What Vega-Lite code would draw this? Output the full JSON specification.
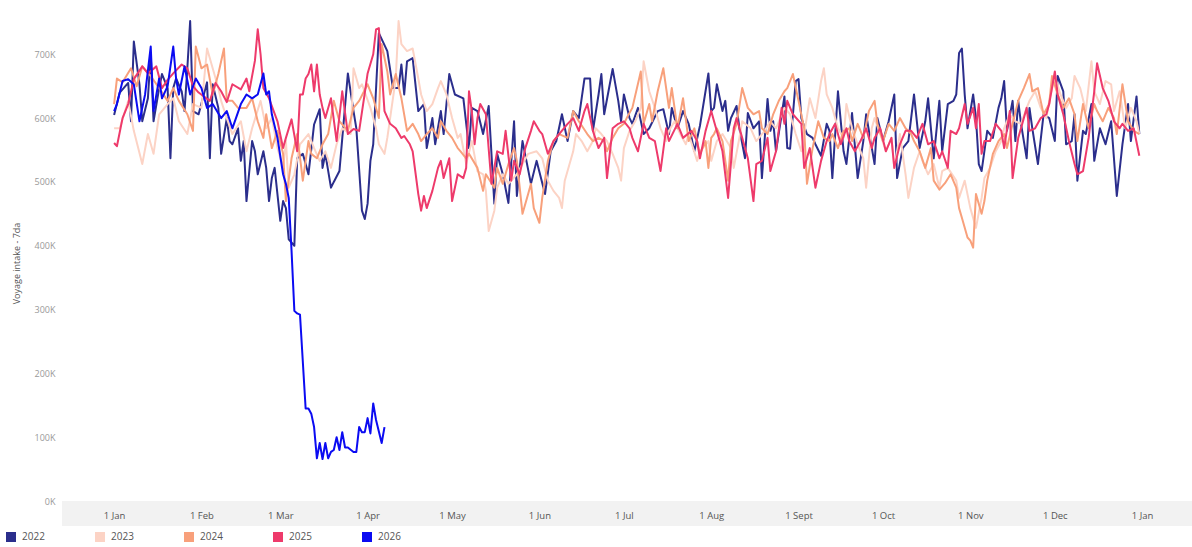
{
"$schema": "https://vega.github.io/schema/vega-lite/v6.json",
"width": 1130,
"height": 526,
"autosize": {"type": "none"},
"padding": {"left": 62, "top": 0, "right": 0, "bottom": 21},
"background": "white",
"config": {"view": {"stroke": null}, "font": "Open Sans"},
"layer": [
{
"data": {"values": [{}]},
"mark": {"type": "rect", "color": "#f2f2f2"},
"encoding": {
"y": {"datum": 0, "type": "quantitative", "scale": {"domain": [-39, 785], "nice": false, "zero": false}},
"y2": {"datum": -39}
}
},
{
"data": {"values": [
{"s":"2022","d":0,"v":605},{"s":"2022","d":2,"v":640},{"s":"2022","d":4,"v":650},{"s":"2022","d":5,"v":655},{"s":"2022","d":6,"v":595},{"s":"2022","d":7,"v":720},{"s":"2022","d":9,"v":653},{"s":"2022","d":10,"v":595},{"s":"2022","d":12,"v":631},{"s":"2022","d":13,"v":700},{"s":"2022","d":14,"v":595},{"s":"2022","d":16,"v":647},{"s":"2022","d":17,"v":669},{"s":"2022","d":19,"v":647},{"s":"2022","d":20,"v":537},{"s":"2022","d":21,"v":647},{"s":"2022","d":22,"v":662},{"s":"2022","d":24,"v":642},{"s":"2022","d":25,"v":611},{"s":"2022","d":26,"v":678},{"s":"2022","d":27,"v":752},{"s":"2022","d":28,"v":611},{"s":"2022","d":30,"v":606},{"s":"2022","d":33,"v":656},{"s":"2022","d":34,"v":537},{"s":"2022","d":35,"v":653},{"s":"2022","d":37,"v":616},{"s":"2022","d":38,"v":544},{"s":"2022","d":40,"v":600},{"s":"2022","d":41,"v":564},{"s":"2022","d":42,"v":559},{"s":"2022","d":44,"v":584},{"s":"2022","d":45,"v":533},{"s":"2022","d":46,"v":564},{"s":"2022","d":47,"v":470},{"s":"2022","d":49,"v":564},{"s":"2022","d":50,"v":548},{"s":"2022","d":51,"v":512},{"s":"2022","d":53,"v":548},{"s":"2022","d":54,"v":522},{"s":"2022","d":55,"v":470},{"s":"2022","d":56,"v":506},{"s":"2022","d":57,"v":522},{"s":"2022","d":59,"v":439},{"s":"2022","d":60,"v":470},{"s":"2022","d":61,"v":459},{"s":"2022","d":62,"v":410},{"s":"2022","d":64,"v":400},{"s":"2022","d":65,"v":537},{"s":"2022","d":67,"v":544},{"s":"2022","d":69,"v":512},{"s":"2022","d":71,"v":590},{"s":"2022","d":73,"v":614},{"s":"2022","d":74,"v":522},{"s":"2022","d":75,"v":544},{"s":"2022","d":77,"v":491},{"s":"2022","d":78,"v":500},{"s":"2022","d":80,"v":517},{"s":"2022","d":83,"v":670},{"s":"2022","d":85,"v":611},{"s":"2022","d":86,"v":584},{"s":"2022","d":88,"v":455},{"s":"2022","d":89,"v":442},{"s":"2022","d":90,"v":466},{"s":"2022","d":91,"v":533},{"s":"2022","d":92,"v":559},{"s":"2022","d":94,"v":733},{"s":"2022","d":97,"v":705},{"s":"2022","d":99,"v":647},{"s":"2022","d":101,"v":647},{"s":"2022","d":102,"v":684},{"s":"2022","d":103,"v":637},{"s":"2022","d":104,"v":689},{"s":"2022","d":106,"v":694},{"s":"2022","d":108,"v":611},{"s":"2022","d":110,"v":622},{"s":"2022","d":111,"v":553},{"s":"2022","d":113,"v":600},{"s":"2022","d":114,"v":559},{"s":"2022","d":116,"v":611},{"s":"2022","d":117,"v":575},{"s":"2022","d":119,"v":669},{"s":"2022","d":121,"v":637},{"s":"2022","d":124,"v":631},{"s":"2022","d":126,"v":553},{"s":"2022","d":127,"v":616},{"s":"2022","d":129,"v":611},{"s":"2022","d":131,"v":575},{"s":"2022","d":133,"v":619},{"s":"2022","d":135,"v":466},{"s":"2022","d":136,"v":544},{"s":"2022","d":138,"v":512},{"s":"2022","d":140,"v":467},{"s":"2022","d":142,"v":595},{"s":"2022","d":143,"v":478},{"s":"2022","d":145,"v":564},{"s":"2022","d":148,"v":497},{"s":"2022","d":150,"v":533},{"s":"2022","d":153,"v":481},{"s":"2022","d":155,"v":548},{"s":"2022","d":157,"v":564},{"s":"2022","d":159,"v":606},{"s":"2022","d":161,"v":564},{"s":"2022","d":163,"v":611},{"s":"2022","d":165,"v":600},{"s":"2022","d":167,"v":662},{"s":"2022","d":169,"v":662},{"s":"2022","d":170,"v":580},{"s":"2022","d":172,"v":637},{"s":"2022","d":173,"v":669},{"s":"2022","d":174,"v":606},{"s":"2022","d":177,"v":677},{"s":"2022","d":179,"v":627},{"s":"2022","d":180,"v":595},{"s":"2022","d":181,"v":637},{"s":"2022","d":183,"v":600},{"s":"2022","d":184,"v":591},{"s":"2022","d":186,"v":616},{"s":"2022","d":188,"v":575},{"s":"2022","d":190,"v":584},{"s":"2022","d":193,"v":611},{"s":"2022","d":195,"v":614},{"s":"2022","d":197,"v":575},{"s":"2022","d":198,"v":616},{"s":"2022","d":200,"v":584},{"s":"2022","d":202,"v":611},{"s":"2022","d":204,"v":591},{"s":"2022","d":206,"v":548},{"s":"2022","d":208,"v":588},{"s":"2022","d":211,"v":670},{"s":"2022","d":212,"v":611},{"s":"2022","d":213,"v":616},{"s":"2022","d":214,"v":653},{"s":"2022","d":216,"v":611},{"s":"2022","d":217,"v":627},{"s":"2022","d":218,"v":580},{"s":"2022","d":219,"v":600},{"s":"2022","d":221,"v":619},{"s":"2022","d":222,"v":584},{"s":"2022","d":224,"v":537},{"s":"2022","d":225,"v":608},{"s":"2022","d":227,"v":584},{"s":"2022","d":229,"v":595},{"s":"2022","d":230,"v":506},{"s":"2022","d":232,"v":630},{"s":"2022","d":233,"v":580},{"s":"2022","d":234,"v":595},{"s":"2022","d":235,"v":548},{"s":"2022","d":238,"v":634},{"s":"2022","d":239,"v":553},{"s":"2022","d":240,"v":552},{"s":"2022","d":242,"v":658},{"s":"2022","d":243,"v":661},{"s":"2022","d":244,"v":600},{"s":"2022","d":246,"v":575},{"s":"2022","d":248,"v":569},{"s":"2022","d":249,"v":559},{"s":"2022","d":251,"v":541},{"s":"2022","d":253,"v":591},{"s":"2022","d":254,"v":580},{"s":"2022","d":255,"v":506},{"s":"2022","d":257,"v":642},{"s":"2022","d":259,"v":548},{"s":"2022","d":260,"v":528},{"s":"2022","d":262,"v":608},{"s":"2022","d":264,"v":506},{"s":"2022","d":266,"v":564},{"s":"2022","d":267,"v":606},{"s":"2022","d":270,"v":528},{"s":"2022","d":271,"v":600},{"s":"2022","d":273,"v":564},{"s":"2022","d":275,"v":595},{"s":"2022","d":277,"v":637},{"s":"2022","d":278,"v":506},{"s":"2022","d":280,"v":553},{"s":"2022","d":282,"v":564},{"s":"2022","d":284,"v":637},{"s":"2022","d":286,"v":553},{"s":"2022","d":288,"v":595},{"s":"2022","d":289,"v":631},{"s":"2022","d":291,"v":537},{"s":"2022","d":293,"v":627},{"s":"2022","d":294,"v":548},{"s":"2022","d":296,"v":622},{"s":"2022","d":298,"v":627},{"s":"2022","d":299,"v":637},{"s":"2022","d":300,"v":702},{"s":"2022","d":301,"v":709},{"s":"2022","d":302,"v":637},{"s":"2022","d":303,"v":584},{"s":"2022","d":305,"v":637},{"s":"2022","d":306,"v":600},{"s":"2022","d":307,"v":528},{"s":"2022","d":308,"v":517},{"s":"2022","d":310,"v":580},{"s":"2022","d":312,"v":569},{"s":"2022","d":314,"v":616},{"s":"2022","d":315,"v":631},{"s":"2022","d":316,"v":658},{"s":"2022","d":317,"v":580},{"s":"2022","d":319,"v":627},{"s":"2022","d":320,"v":564},{"s":"2022","d":321,"v":627},{"s":"2022","d":322,"v":591},{"s":"2022","d":324,"v":537},{"s":"2022","d":325,"v":616},{"s":"2022","d":326,"v":584},{"s":"2022","d":328,"v":528},{"s":"2022","d":330,"v":606},{"s":"2022","d":332,"v":600},{"s":"2022","d":334,"v":564},{"s":"2022","d":335,"v":666},{"s":"2022","d":337,"v":642},{"s":"2022","d":338,"v":559},{"s":"2022","d":340,"v":564},{"s":"2022","d":341,"v":606},{"s":"2022","d":342,"v":502},{"s":"2022","d":344,"v":580},{"s":"2022","d":345,"v":575},{"s":"2022","d":347,"v":622},{"s":"2022","d":348,"v":533},{"s":"2022","d":350,"v":584},{"s":"2022","d":352,"v":559},{"s":"2022","d":354,"v":595},{"s":"2022","d":356,"v":478},{"s":"2022","d":358,"v":559},{"s":"2022","d":360,"v":622},{"s":"2022","d":361,"v":564},{"s":"2022","d":363,"v":634},{"s":"2022","d":364,"v":575},
{"s":"2023","d":0,"v":584},{"s":"2023","d":2,"v":584},{"s":"2023","d":5,"v":627},{"s":"2023","d":7,"v":580},{"s":"2023","d":10,"v":528},{"s":"2023","d":12,"v":575},{"s":"2023","d":14,"v":544},{"s":"2023","d":16,"v":606},{"s":"2023","d":19,"v":622},{"s":"2023","d":21,"v":631},{"s":"2023","d":23,"v":595},{"s":"2023","d":26,"v":575},{"s":"2023","d":28,"v":622},{"s":"2023","d":31,"v":616},{"s":"2023","d":33,"v":709},{"s":"2023","d":35,"v":678},{"s":"2023","d":37,"v":647},{"s":"2023","d":38,"v":627},{"s":"2023","d":40,"v":600},{"s":"2023","d":42,"v":575},{"s":"2023","d":45,"v":595},{"s":"2023","d":47,"v":548},{"s":"2023","d":49,"v":584},{"s":"2023","d":52,"v":627},{"s":"2023","d":54,"v":584},{"s":"2023","d":56,"v":600},{"s":"2023","d":58,"v":553},{"s":"2023","d":60,"v":522},{"s":"2023","d":61,"v":564},{"s":"2023","d":62,"v":491},{"s":"2023","d":64,"v":512},{"s":"2023","d":66,"v":559},{"s":"2023","d":69,"v":575},{"s":"2023","d":71,"v":553},{"s":"2023","d":73,"v":533},{"s":"2023","d":75,"v":548},{"s":"2023","d":77,"v":522},{"s":"2023","d":79,"v":559},{"s":"2023","d":81,"v":584},{"s":"2023","d":84,"v":575},{"s":"2023","d":85,"v":678},{"s":"2023","d":87,"v":647},{"s":"2023","d":88,"v":653},{"s":"2023","d":91,"v":616},{"s":"2023","d":93,"v":584},{"s":"2023","d":94,"v":559},{"s":"2023","d":96,"v":544},{"s":"2023","d":97,"v":569},{"s":"2023","d":100,"v":662},{"s":"2023","d":101,"v":752},{"s":"2023","d":102,"v":716},{"s":"2023","d":104,"v":705},{"s":"2023","d":106,"v":709},{"s":"2023","d":108,"v":662},{"s":"2023","d":109,"v":637},{"s":"2023","d":111,"v":611},{"s":"2023","d":113,"v":622},{"s":"2023","d":115,"v":647},{"s":"2023","d":116,"v":658},{"s":"2023","d":118,"v":637},{"s":"2023","d":120,"v":600},{"s":"2023","d":122,"v":569},{"s":"2023","d":123,"v":575},{"s":"2023","d":125,"v":528},{"s":"2023","d":127,"v":564},{"s":"2023","d":129,"v":517},{"s":"2023","d":131,"v":512},{"s":"2023","d":132,"v":486},{"s":"2023","d":133,"v":423},{"s":"2023","d":135,"v":455},{"s":"2023","d":136,"v":491},{"s":"2023","d":138,"v":512},{"s":"2023","d":140,"v":497},{"s":"2023","d":143,"v":512},{"s":"2023","d":145,"v":528},{"s":"2023","d":147,"v":544},{"s":"2023","d":150,"v":548},{"s":"2023","d":152,"v":537},{"s":"2023","d":154,"v":502},{"s":"2023","d":156,"v":486},{"s":"2023","d":158,"v":475},{"s":"2023","d":159,"v":459},{"s":"2023","d":160,"v":502},{"s":"2023","d":163,"v":548},{"s":"2023","d":164,"v":575},{"s":"2023","d":166,"v":564},{"s":"2023","d":168,"v":548},{"s":"2023","d":170,"v":564},{"s":"2023","d":171,"v":584},{"s":"2023","d":173,"v":575},{"s":"2023","d":175,"v":564},{"s":"2023","d":177,"v":544},{"s":"2023","d":179,"v":522},{"s":"2023","d":180,"v":502},{"s":"2023","d":181,"v":553},{"s":"2023","d":183,"v":580},{"s":"2023","d":185,"v":595},{"s":"2023","d":187,"v":616},{"s":"2023","d":188,"v":689},{"s":"2023","d":190,"v":642},{"s":"2023","d":192,"v":616},{"s":"2023","d":194,"v":584},{"s":"2023","d":196,"v":564},{"s":"2023","d":197,"v":580},{"s":"2023","d":199,"v":595},{"s":"2023","d":201,"v":575},{"s":"2023","d":203,"v":559},{"s":"2023","d":204,"v":575},{"s":"2023","d":207,"v":533},{"s":"2023","d":208,"v":548},{"s":"2023","d":209,"v":553},{"s":"2023","d":211,"v":564},{"s":"2023","d":212,"v":533},{"s":"2023","d":214,"v":564},{"s":"2023","d":216,"v":575},{"s":"2023","d":219,"v":553},{"s":"2023","d":220,"v":522},{"s":"2023","d":222,"v":569},{"s":"2023","d":223,"v":595},{"s":"2023","d":226,"v":584},{"s":"2023","d":228,"v":564},{"s":"2023","d":231,"v":580},{"s":"2023","d":233,"v":595},{"s":"2023","d":235,"v":584},{"s":"2023","d":238,"v":616},{"s":"2023","d":240,"v":606},{"s":"2023","d":242,"v":575},{"s":"2023","d":244,"v":548},{"s":"2023","d":245,"v":575},{"s":"2023","d":247,"v":631},{"s":"2023","d":249,"v":600},{"s":"2023","d":251,"v":658},{"s":"2023","d":252,"v":678},{"s":"2023","d":253,"v":637},{"s":"2023","d":255,"v":616},{"s":"2023","d":257,"v":584},{"s":"2023","d":259,"v":569},{"s":"2023","d":260,"v":622},{"s":"2023","d":262,"v":584},{"s":"2023","d":264,"v":559},{"s":"2023","d":266,"v":537},{"s":"2023","d":267,"v":491},{"s":"2023","d":269,"v":584},{"s":"2023","d":270,"v":600},{"s":"2023","d":272,"v":575},{"s":"2023","d":274,"v":548},{"s":"2023","d":276,"v":569},{"s":"2023","d":277,"v":522},{"s":"2023","d":279,"v":575},{"s":"2023","d":281,"v":512},{"s":"2023","d":282,"v":475},{"s":"2023","d":284,"v":522},{"s":"2023","d":286,"v":548},{"s":"2023","d":287,"v":533},{"s":"2023","d":289,"v":512},{"s":"2023","d":291,"v":528},{"s":"2023","d":293,"v":491},{"s":"2023","d":294,"v":517},{"s":"2023","d":296,"v":522},{"s":"2023","d":299,"v":502},{"s":"2023","d":300,"v":475},{"s":"2023","d":302,"v":502},{"s":"2023","d":304,"v":459},{"s":"2023","d":306,"v":428},{"s":"2023","d":308,"v":475},{"s":"2023","d":309,"v":506},{"s":"2023","d":311,"v":522},{"s":"2023","d":313,"v":548},{"s":"2023","d":315,"v":564},{"s":"2023","d":316,"v":584},{"s":"2023","d":318,"v":606},{"s":"2023","d":320,"v":595},{"s":"2023","d":322,"v":591},{"s":"2023","d":324,"v":616},{"s":"2023","d":325,"v":627},{"s":"2023","d":327,"v":642},{"s":"2023","d":329,"v":616},{"s":"2023","d":331,"v":600},{"s":"2023","d":332,"v":627},{"s":"2023","d":334,"v":666},{"s":"2023","d":336,"v":637},{"s":"2023","d":338,"v":616},{"s":"2023","d":340,"v":631},{"s":"2023","d":341,"v":666},{"s":"2023","d":343,"v":647},{"s":"2023","d":345,"v":611},{"s":"2023","d":347,"v":689},{"s":"2023","d":348,"v":642},{"s":"2023","d":350,"v":622},{"s":"2023","d":352,"v":658},{"s":"2023","d":354,"v":653},{"s":"2023","d":355,"v":611},{"s":"2023","d":357,"v":642},{"s":"2023","d":359,"v":584},{"s":"2023","d":361,"v":616},{"s":"2023","d":363,"v":595},{"s":"2023","d":364,"v":575},
{"s":"2024","d":0,"v":622},{"s":"2024","d":1,"v":662},{"s":"2024","d":3,"v":656},{"s":"2024","d":6,"v":678},{"s":"2024","d":8,"v":650},{"s":"2024","d":10,"v":681},{"s":"2024","d":13,"v":666},{"s":"2024","d":16,"v":647},{"s":"2024","d":19,"v":627},{"s":"2024","d":21,"v":647},{"s":"2024","d":23,"v":627},{"s":"2024","d":26,"v":606},{"s":"2024","d":28,"v":580},{"s":"2024","d":29,"v":712},{"s":"2024","d":31,"v":678},{"s":"2024","d":33,"v":684},{"s":"2024","d":35,"v":637},{"s":"2024","d":37,"v":669},{"s":"2024","d":39,"v":709},{"s":"2024","d":40,"v":627},{"s":"2024","d":42,"v":627},{"s":"2024","d":44,"v":616},{"s":"2024","d":47,"v":616},{"s":"2024","d":49,"v":631},{"s":"2024","d":51,"v":595},{"s":"2024","d":53,"v":569},{"s":"2024","d":54,"v":606},{"s":"2024","d":56,"v":553},{"s":"2024","d":58,"v":580},{"s":"2024","d":60,"v":544},{"s":"2024","d":61,"v":470},{"s":"2024","d":63,"v":537},{"s":"2024","d":65,"v":575},{"s":"2024","d":67,"v":502},{"s":"2024","d":69,"v":564},{"s":"2024","d":70,"v":544},{"s":"2024","d":72,"v":537},{"s":"2024","d":74,"v":559},{"s":"2024","d":76,"v":575},{"s":"2024","d":78,"v":627},{"s":"2024","d":80,"v":595},{"s":"2024","d":83,"v":580},{"s":"2024","d":85,"v":616},{"s":"2024","d":87,"v":627},{"s":"2024","d":90,"v":653},{"s":"2024","d":92,"v":631},{"s":"2024","d":94,"v":600},{"s":"2024","d":95,"v":716},{"s":"2024","d":97,"v":673},{"s":"2024","d":98,"v":637},{"s":"2024","d":100,"v":669},{"s":"2024","d":102,"v":631},{"s":"2024","d":104,"v":580},{"s":"2024","d":106,"v":591},{"s":"2024","d":108,"v":575},{"s":"2024","d":109,"v":564},{"s":"2024","d":111,"v":575},{"s":"2024","d":113,"v":584},{"s":"2024","d":115,"v":569},{"s":"2024","d":116,"v":595},{"s":"2024","d":118,"v":580},{"s":"2024","d":120,"v":569},{"s":"2024","d":122,"v":553},{"s":"2024","d":123,"v":548},{"s":"2024","d":125,"v":537},{"s":"2024","d":126,"v":544},{"s":"2024","d":129,"v":522},{"s":"2024","d":131,"v":486},{"s":"2024","d":132,"v":512},{"s":"2024","d":135,"v":491},{"s":"2024","d":136,"v":522},{"s":"2024","d":138,"v":497},{"s":"2024","d":140,"v":528},{"s":"2024","d":142,"v":553},{"s":"2024","d":143,"v":533},{"s":"2024","d":145,"v":450},{"s":"2024","d":147,"v":481},{"s":"2024","d":148,"v":497},{"s":"2024","d":149,"v":459},{"s":"2024","d":151,"v":436},{"s":"2024","d":152,"v":475},{"s":"2024","d":154,"v":533},{"s":"2024","d":156,"v":564},{"s":"2024","d":158,"v":575},{"s":"2024","d":161,"v":569},{"s":"2024","d":163,"v":611},{"s":"2024","d":165,"v":595},{"s":"2024","d":168,"v":575},{"s":"2024","d":170,"v":564},{"s":"2024","d":172,"v":569},{"s":"2024","d":174,"v":564},{"s":"2024","d":175,"v":548},{"s":"2024","d":177,"v":569},{"s":"2024","d":179,"v":584},{"s":"2024","d":181,"v":591},{"s":"2024","d":182,"v":600},{"s":"2024","d":184,"v":616},{"s":"2024","d":187,"v":673},{"s":"2024","d":188,"v":591},{"s":"2024","d":190,"v":622},{"s":"2024","d":191,"v":595},{"s":"2024","d":193,"v":642},{"s":"2024","d":195,"v":678},{"s":"2024","d":197,"v":616},{"s":"2024","d":198,"v":647},{"s":"2024","d":200,"v":584},{"s":"2024","d":202,"v":631},{"s":"2024","d":204,"v":564},{"s":"2024","d":206,"v":584},{"s":"2024","d":208,"v":543},{"s":"2024","d":210,"v":564},{"s":"2024","d":211,"v":522},{"s":"2024","d":212,"v":569},{"s":"2024","d":213,"v":575},{"s":"2024","d":214,"v":584},{"s":"2024","d":216,"v":564},{"s":"2024","d":218,"v":502},{"s":"2024","d":219,"v":564},{"s":"2024","d":221,"v":591},{"s":"2024","d":223,"v":647},{"s":"2024","d":225,"v":616},{"s":"2024","d":227,"v":606},{"s":"2024","d":229,"v":611},{"s":"2024","d":230,"v":584},{"s":"2024","d":232,"v":575},{"s":"2024","d":234,"v":606},{"s":"2024","d":236,"v":627},{"s":"2024","d":238,"v":642},{"s":"2024","d":239,"v":647},{"s":"2024","d":241,"v":669},{"s":"2024","d":243,"v":627},{"s":"2024","d":245,"v":584},{"s":"2024","d":246,"v":497},{"s":"2024","d":248,"v":553},{"s":"2024","d":250,"v":595},{"s":"2024","d":252,"v":569},{"s":"2024","d":254,"v":564},{"s":"2024","d":255,"v":575},{"s":"2024","d":257,"v":553},{"s":"2024","d":259,"v":580},{"s":"2024","d":261,"v":584},{"s":"2024","d":262,"v":564},{"s":"2024","d":264,"v":591},{"s":"2024","d":266,"v":569},{"s":"2024","d":268,"v":611},{"s":"2024","d":270,"v":627},{"s":"2024","d":271,"v":591},{"s":"2024","d":273,"v":564},{"s":"2024","d":275,"v":591},{"s":"2024","d":277,"v":580},{"s":"2024","d":279,"v":600},{"s":"2024","d":281,"v":584},{"s":"2024","d":283,"v":575},{"s":"2024","d":284,"v":564},{"s":"2024","d":286,"v":548},{"s":"2024","d":288,"v":522},{"s":"2024","d":290,"v":553},{"s":"2024","d":291,"v":502},{"s":"2024","d":293,"v":488},{"s":"2024","d":295,"v":498},{"s":"2024","d":297,"v":512},{"s":"2024","d":299,"v":491},{"s":"2024","d":300,"v":459},{"s":"2024","d":301,"v":444},{"s":"2024","d":303,"v":413},{"s":"2024","d":304,"v":408},{"s":"2024","d":305,"v":397},{"s":"2024","d":306,"v":481},{"s":"2024","d":308,"v":450},{"s":"2024","d":309,"v":470},{"s":"2024","d":310,"v":502},{"s":"2024","d":312,"v":544},{"s":"2024","d":314,"v":564},{"s":"2024","d":316,"v":575},{"s":"2024","d":317,"v":553},{"s":"2024","d":319,"v":591},{"s":"2024","d":321,"v":627},{"s":"2024","d":323,"v":647},{"s":"2024","d":325,"v":669},{"s":"2024","d":326,"v":642},{"s":"2024","d":328,"v":647},{"s":"2024","d":330,"v":606},{"s":"2024","d":332,"v":622},{"s":"2024","d":333,"v":666},{"s":"2024","d":335,"v":637},{"s":"2024","d":337,"v":616},{"s":"2024","d":339,"v":631},{"s":"2024","d":341,"v":606},{"s":"2024","d":342,"v":564},{"s":"2024","d":344,"v":622},{"s":"2024","d":346,"v":584},{"s":"2024","d":348,"v":622},{"s":"2024","d":349,"v":611},{"s":"2024","d":351,"v":595},{"s":"2024","d":353,"v":616},{"s":"2024","d":355,"v":600},{"s":"2024","d":356,"v":575},{"s":"2024","d":358,"v":653},{"s":"2024","d":360,"v":595},{"s":"2024","d":362,"v":580},{"s":"2024","d":364,"v":575},
{"s":"2025","d":0,"v":561},{"s":"2025","d":1,"v":556},{"s":"2025","d":3,"v":600},{"s":"2025","d":5,"v":622},{"s":"2025","d":7,"v":661},{"s":"2025","d":10,"v":681},{"s":"2025","d":12,"v":670},{"s":"2025","d":15,"v":681},{"s":"2025","d":17,"v":647},{"s":"2025","d":19,"v":660},{"s":"2025","d":21,"v":670},{"s":"2025","d":24,"v":684},{"s":"2025","d":26,"v":678},{"s":"2025","d":28,"v":650},{"s":"2025","d":30,"v":640},{"s":"2025","d":34,"v":627},{"s":"2025","d":36,"v":655},{"s":"2025","d":38,"v":642},{"s":"2025","d":40,"v":625},{"s":"2025","d":42,"v":653},{"s":"2025","d":45,"v":645},{"s":"2025","d":47,"v":662},{"s":"2025","d":48,"v":642},{"s":"2025","d":50,"v":690},{"s":"2025","d":51,"v":739},{"s":"2025","d":52,"v":700},{"s":"2025","d":53,"v":647},{"s":"2025","d":55,"v":631},{"s":"2025","d":58,"v":595},{"s":"2025","d":60,"v":553},{"s":"2025","d":61,"v":569},{"s":"2025","d":63,"v":598},{"s":"2025","d":65,"v":548},{"s":"2025","d":66,"v":637},{"s":"2025","d":67,"v":637},{"s":"2025","d":68,"v":662},{"s":"2025","d":69,"v":669},{"s":"2025","d":70,"v":684},{"s":"2025","d":71,"v":642},{"s":"2025","d":72,"v":684},{"s":"2025","d":73,"v":637},{"s":"2025","d":74,"v":616},{"s":"2025","d":75,"v":600},{"s":"2025","d":77,"v":631},{"s":"2025","d":79,"v":564},{"s":"2025","d":81,"v":642},{"s":"2025","d":83,"v":575},{"s":"2025","d":85,"v":583},{"s":"2025","d":87,"v":580},{"s":"2025","d":89,"v":639},{"s":"2025","d":90,"v":670},{"s":"2025","d":92,"v":700},{"s":"2025","d":93,"v":739},{"s":"2025","d":94,"v":741},{"s":"2025","d":96,"v":611},{"s":"2025","d":98,"v":591},{"s":"2025","d":100,"v":584},{"s":"2025","d":102,"v":569},{"s":"2025","d":103,"v":572},{"s":"2025","d":105,"v":559},{"s":"2025","d":106,"v":548},{"s":"2025","d":108,"v":481},{"s":"2025","d":109,"v":455},{"s":"2025","d":110,"v":478},{"s":"2025","d":111,"v":459},{"s":"2025","d":113,"v":486},{"s":"2025","d":115,"v":522},{"s":"2025","d":116,"v":533},{"s":"2025","d":117,"v":506},{"s":"2025","d":119,"v":537},{"s":"2025","d":120,"v":470},{"s":"2025","d":122,"v":512},{"s":"2025","d":124,"v":506},{"s":"2025","d":125,"v":522},{"s":"2025","d":126,"v":642},{"s":"2025","d":127,"v":611},{"s":"2025","d":128,"v":559},{"s":"2025","d":129,"v":600},{"s":"2025","d":130,"v":622},{"s":"2025","d":132,"v":606},{"s":"2025","d":134,"v":497},{"s":"2025","d":136,"v":548},{"s":"2025","d":138,"v":544},{"s":"2025","d":139,"v":580},{"s":"2025","d":141,"v":502},{"s":"2025","d":142,"v":533},{"s":"2025","d":144,"v":512},{"s":"2025","d":146,"v":553},{"s":"2025","d":148,"v":580},{"s":"2025","d":149,"v":595},{"s":"2025","d":151,"v":580},{"s":"2025","d":152,"v":575},{"s":"2025","d":154,"v":544},{"s":"2025","d":156,"v":564},{"s":"2025","d":158,"v":575},{"s":"2025","d":161,"v":591},{"s":"2025","d":163,"v":600},{"s":"2025","d":165,"v":580},{"s":"2025","d":167,"v":611},{"s":"2025","d":168,"v":622},{"s":"2025","d":170,"v":580},{"s":"2025","d":172,"v":553},{"s":"2025","d":174,"v":569},{"s":"2025","d":175,"v":506},{"s":"2025","d":177,"v":584},{"s":"2025","d":179,"v":591},{"s":"2025","d":181,"v":595},{"s":"2025","d":183,"v":584},{"s":"2025","d":184,"v":569},{"s":"2025","d":186,"v":548},{"s":"2025","d":188,"v":591},{"s":"2025","d":190,"v":569},{"s":"2025","d":192,"v":564},{"s":"2025","d":194,"v":517},{"s":"2025","d":196,"v":584},{"s":"2025","d":197,"v":564},{"s":"2025","d":200,"v":591},{"s":"2025","d":202,"v":569},{"s":"2025","d":205,"v":580},{"s":"2025","d":207,"v":564},{"s":"2025","d":208,"v":537},{"s":"2025","d":210,"v":580},{"s":"2025","d":212,"v":611},{"s":"2025","d":213,"v":595},{"s":"2025","d":215,"v":564},{"s":"2025","d":216,"v":548},{"s":"2025","d":218,"v":475},{"s":"2025","d":220,"v":584},{"s":"2025","d":221,"v":600},{"s":"2025","d":223,"v":569},{"s":"2025","d":225,"v":537},{"s":"2025","d":227,"v":470},{"s":"2025","d":228,"v":528},{"s":"2025","d":230,"v":533},{"s":"2025","d":232,"v":569},{"s":"2025","d":233,"v":517},{"s":"2025","d":235,"v":548},{"s":"2025","d":237,"v":616},{"s":"2025","d":238,"v":591},{"s":"2025","d":239,"v":627},{"s":"2025","d":241,"v":606},{"s":"2025","d":244,"v":591},{"s":"2025","d":245,"v":522},{"s":"2025","d":247,"v":553},{"s":"2025","d":249,"v":491},{"s":"2025","d":251,"v":533},{"s":"2025","d":253,"v":564},{"s":"2025","d":254,"v":575},{"s":"2025","d":256,"v":591},{"s":"2025","d":258,"v":559},{"s":"2025","d":260,"v":584},{"s":"2025","d":261,"v":564},{"s":"2025","d":263,"v":548},{"s":"2025","d":265,"v":564},{"s":"2025","d":267,"v":584},{"s":"2025","d":269,"v":553},{"s":"2025","d":270,"v":569},{"s":"2025","d":272,"v":584},{"s":"2025","d":274,"v":548},{"s":"2025","d":276,"v":569},{"s":"2025","d":277,"v":522},{"s":"2025","d":279,"v":559},{"s":"2025","d":281,"v":580},{"s":"2025","d":283,"v":580},{"s":"2025","d":285,"v":569},{"s":"2025","d":287,"v":591},{"s":"2025","d":289,"v":559},{"s":"2025","d":291,"v":564},{"s":"2025","d":293,"v":537},{"s":"2025","d":294,"v":548},{"s":"2025","d":296,"v":522},{"s":"2025","d":297,"v":580},{"s":"2025","d":299,"v":575},{"s":"2025","d":300,"v":584},{"s":"2025","d":302,"v":622},{"s":"2025","d":303,"v":591},{"s":"2025","d":305,"v":616},{"s":"2025","d":306,"v":584},{"s":"2025","d":307,"v":622},{"s":"2025","d":308,"v":544},{"s":"2025","d":309,"v":564},{"s":"2025","d":311,"v":564},{"s":"2025","d":313,"v":591},{"s":"2025","d":315,"v":580},{"s":"2025","d":316,"v":553},{"s":"2025","d":318,"v":611},{"s":"2025","d":319,"v":506},{"s":"2025","d":321,"v":569},{"s":"2025","d":322,"v":584},{"s":"2025","d":324,"v":616},{"s":"2025","d":325,"v":580},{"s":"2025","d":327,"v":584},{"s":"2025","d":329,"v":600},{"s":"2025","d":331,"v":606},{"s":"2025","d":332,"v":622},{"s":"2025","d":334,"v":673},{"s":"2025","d":335,"v":637},{"s":"2025","d":337,"v":606},{"s":"2025","d":339,"v":564},{"s":"2025","d":341,"v":528},{"s":"2025","d":342,"v":512},{"s":"2025","d":344,"v":517},{"s":"2025","d":346,"v":569},{"s":"2025","d":348,"v":642},{"s":"2025","d":349,"v":686},{"s":"2025","d":351,"v":647},{"s":"2025","d":353,"v":627},{"s":"2025","d":355,"v":595},{"s":"2025","d":357,"v":584},{"s":"2025","d":358,"v":591},{"s":"2025","d":360,"v":580},{"s":"2025","d":362,"v":584},{"s":"2025","d":364,"v":541},
{"s":"2026","d":0,"v":611},{"s":"2026","d":1,"v":622},{"s":"2026","d":3,"v":658},{"s":"2026","d":5,"v":661},{"s":"2026","d":7,"v":653},{"s":"2026","d":9,"v":595},{"s":"2026","d":11,"v":637},{"s":"2026","d":13,"v":712},{"s":"2026","d":14,"v":611},{"s":"2026","d":16,"v":662},{"s":"2026","d":17,"v":631},{"s":"2026","d":19,"v":650},{"s":"2026","d":21,"v":712},{"s":"2026","d":22,"v":662},{"s":"2026","d":23,"v":637},{"s":"2026","d":25,"v":681},{"s":"2026","d":27,"v":637},{"s":"2026","d":29,"v":662},{"s":"2026","d":31,"v":647},{"s":"2026","d":33,"v":616},{"s":"2026","d":35,"v":622},{"s":"2026","d":38,"v":600},{"s":"2026","d":40,"v":611},{"s":"2026","d":42,"v":584},{"s":"2026","d":45,"v":622},{"s":"2026","d":47,"v":637},{"s":"2026","d":49,"v":631},{"s":"2026","d":51,"v":637},{"s":"2026","d":53,"v":670},{"s":"2026","d":54,"v":637},{"s":"2026","d":55,"v":642},{"s":"2026","d":56,"v":606},{"s":"2026","d":58,"v":569},{"s":"2026","d":60,"v":512},{"s":"2026","d":61,"v":497},{"s":"2026","d":62,"v":475},{"s":"2026","d":63,"v":392},{"s":"2026","d":64,"v":298},{"s":"2026","d":65,"v":294},{"s":"2026","d":66,"v":292},{"s":"2026","d":68,"v":145},{"s":"2026","d":69,"v":145},{"s":"2026","d":70,"v":137},{"s":"2026","d":71,"v":116},{"s":"2026","d":72,"v":67},{"s":"2026","d":73,"v":91},{"s":"2026","d":74,"v":66},{"s":"2026","d":75,"v":91},{"s":"2026","d":76,"v":67},{"s":"2026","d":77,"v":77},{"s":"2026","d":78,"v":80},{"s":"2026","d":79,"v":100},{"s":"2026","d":80,"v":80},{"s":"2026","d":81,"v":108},{"s":"2026","d":82,"v":84},{"s":"2026","d":83,"v":84},{"s":"2026","d":85,"v":77},{"s":"2026","d":86,"v":77},{"s":"2026","d":87,"v":116},{"s":"2026","d":88,"v":108},{"s":"2026","d":89,"v":108},{"s":"2026","d":90,"v":130},{"s":"2026","d":91,"v":106},{"s":"2026","d":92,"v":153},{"s":"2026","d":93,"v":127},{"s":"2026","d":95,"v":91},{"s":"2026","d":96,"v":116}
]},
"mark": {"type": "line", "strokeWidth": 2, "strokeJoin": "round"},
"encoding": {
"x": {"field": "d", "type": "quantitative",
"scale": {"domain": [-18.5, 382.7], "nice": false, "zero": false},
"axis": {"values": [0,31,59,90,120,151,181,212,243,273,304,334,365],
"labelExpr": "['1 Jan','1 Feb','1 Mar','1 Apr','1 May','1 Jun','1 Jul','1 Aug','1 Sept','1 Oct','1 Nov','1 Dec','1 Jan'][indexof([0,31,59,90,120,151,181,212,243,273,304,334,365], datum.value)]",
"title": null, "domain": false, "ticks": false, "tickSize": 0, "grid": false, "zindex": 2,
"labelPadding": -11, "labelBaseline": "middle", "labelColor": "#555555", "labelFontSize": 9.5,
"labelFlush": false, "labelOverlap": false}},
"y": {"field": "v", "type": "quantitative",
"scale": {"domain": [-39, 785], "nice": false, "zero": false},
"axis": {"values": [0,100,200,300,400,500,600,700], "labelExpr": "datum.value + 'K'",
"title": "Voyage intake - 7da", "domain": false, "ticks": false, "gridColor": "#efefef",
"labelColor": "#999999", "labelFontSize": 9, "labelPadding": 7,
"titleFontSize": 9, "titleFontWeight": "normal", "titleColor": "#555555", "titlePadding": 13}},
"color": {"field": "s", "type": "nominal",
"scale": {"domain": ["2022","2023","2024","2025","2026"], "range": ["#2b2e8c","#fcd3c5","#f8a07b","#ee3a6b","#0b0bf2"]},
"legend": {"title": null, "orient": "none", "legendX": -56, "legendY": 532, "direction": "horizontal",
"symbolType": "square", "symbolSize": 100, "symbolStrokeWidth": 0, "labelFontSize": 10, "labelColor": "#555555",
"columnPadding": 50, "labelOffset": 6,
"encode": {"symbols": {"update": {"fill": {"scale": "color", "field": "value"}, "fillOpacity": {"value": 1}}}}}}
}
}
]
}
